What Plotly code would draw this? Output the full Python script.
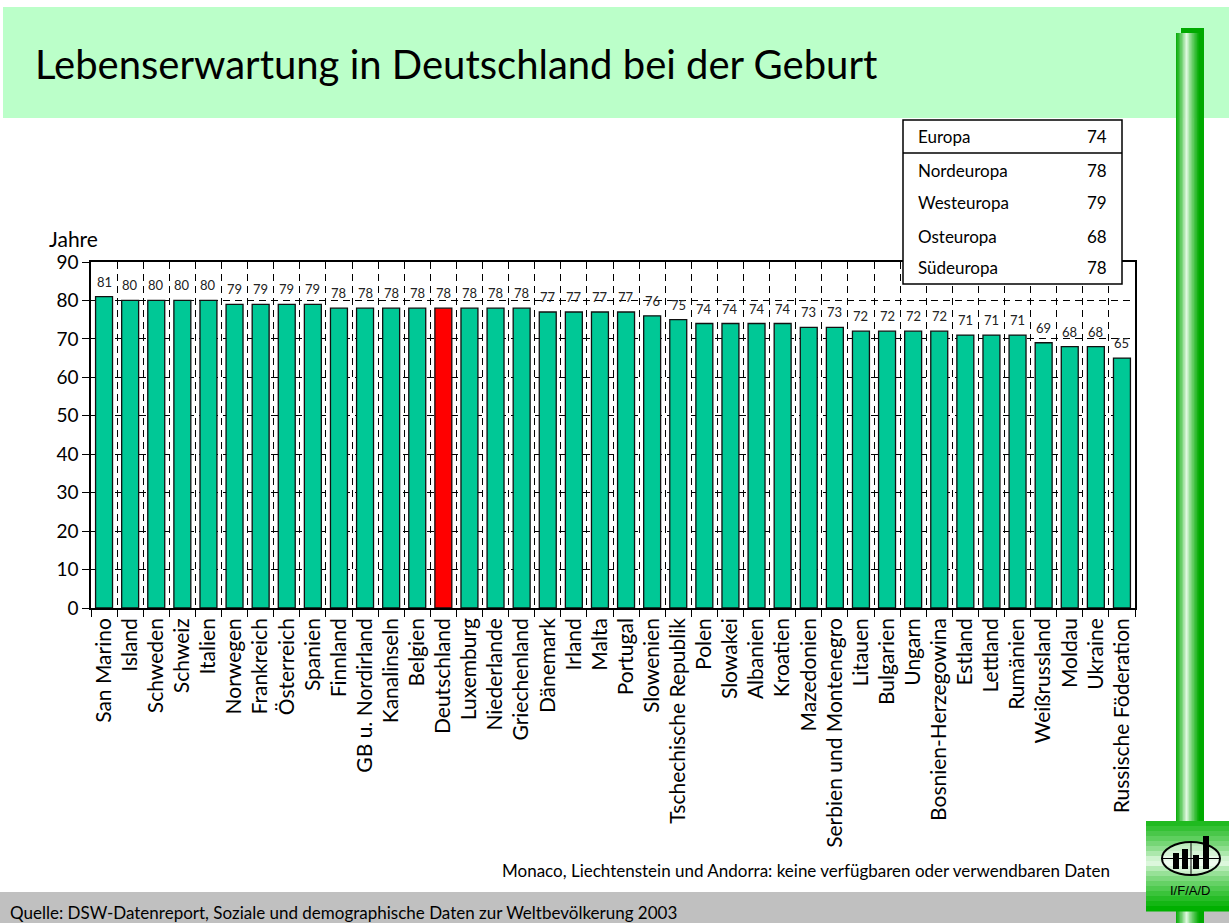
import plotly.graph_objects as go

# Data
countries = [
    "San Marino", "Island", "Schweden", "Schweiz", "Italien", "Norwegen",
    "Frankreich", "Österreich", "Spanien", "Finnland", "GB u. Nordirland",
    "Kanalinseln", "Belgien", "Deutschland", "Luxemburg", "Niederlande",
    "Griechenland", "Dänemark", "Irland", "Malta", "Portugal", "Slowenien",
    "Tschechische Republik", "Polen", "Slowakei", "Albanien", "Kroatien",
    "Mazedonien", "Serbien und Montenegro", "Litauen", "Bulgarien", "Ungarn",
    "Bosnien-Herzegowina", "Estland", "Lettland", "Rumänien", "Weißrussland",
    "Moldau", "Ukraine", "Russische Föderation",
]
life_exp = [81, 80, 80, 80, 80, 79, 79, 79, 79, 78, 78, 78, 78, 78, 78, 78,
            78, 77, 77, 77, 77, 76, 75, 74, 74, 74, 74, 73, 73, 72, 72, 72,
            72, 71, 71, 71, 69, 68, 68, 65]
highlight = "Deutschland"

regions = ["Europa", "Nordeuropa", "Westeuropa", "Osteuropa", "Südeuropa"]
region_values = [74, 78, 79, 68, 78]

y_ticks = [0, 10, 20, 30, 40, 50, 60, 70, 80, 90]

# Page geometry
W, H = 1229, 923
L, R, T, B = 91, 94, 262, 315
PW, PH = W - L - R, H - T - B
FONT = "Lato, sans-serif"
BAR_GREEN = "#00C896"


def fx(px):
    return (px - L) / PW


def fy(py):
    return (H - B - py) / PH


def rect(x0, y0, x1, y1, fill, line=None, layer="below"):
    return dict(type="rect", xref="paper", yref="paper",
                x0=fx(x0), x1=fx(x1), y0=fy(y0), y1=fy(y1),
                fillcolor=fill, layer=layer,
                line=line or dict(width=0))


def mix(c1, c2, t):
    a = [int(c1[i:i + 2], 16) for i in (1, 3, 5)]
    b = [int(c2[i:i + 2], 16) for i in (1, 3, 5)]
    return "#%02x%02x%02x" % tuple(round(a[k] + (b[k] - a[k]) * t) for k in range(3))


bar_colors = ["#FF0000" if c == highlight else BAR_GREEN for c in countries]

fig = go.Figure(go.Bar(
    x=countries, y=life_exp,
    marker=dict(color=bar_colors, line=dict(color="#111111", width=1.3)),
    width=0.65,
    hoverinfo="x+y",
))

shapes = []
# header band
shapes.append(rect(3, 7, 1229, 118, "#BBFFC9"))
# footer band
shapes.append(rect(0, 892, 1229, 923, "#C0C0C0"))

# right vertical gradient bar (highlight left of centre, solid dark right edge)
x0, x1 = 1176, 1199
n = 16
for i in range(n):
    t = (i + 0.5) / n
    if t < 0.45:
        d = (0.45 - t) / 0.45
    else:
        d = (t - 0.45) / 0.55
    col = mix("#F4FFF4", "#00AA00", min(1, d ** 0.75))
    shapes.append(rect(x0 + (x1 - x0) * i / n, 33, x0 + (x1 - x0) * (i + 1) / n + 0.5, 923, col))
shapes.append(rect(1199, 33, 1204, 923, "#00AA00"))
shapes.append(rect(1181, 28, 1204, 33, "#00AA00"))

# logo square with horizontal gradient
lx0, lx1, ly0, ly1 = 1146, 1229, 821, 911
m = 18
for i in range(m):
    t = i / (m - 1)
    d = abs(t - 0.45) / 0.55
    col = mix("#F4FFF4", "#00B000", min(1, d ** 0.7))
    shapes.append(rect(lx0, ly0 + (ly1 - ly0) * i / m, lx1, ly0 + (ly1 - ly0) * (i + 1) / m + 0.5, col))
shapes.append(dict(type="circle", xref="paper", yref="paper",
                   x0=fx(1162), x1=fx(1220), y0=fy(842), y1=fy(875),
                   line=dict(color="#000000", width=2), fillcolor="rgba(255,255,255,0.5)", layer="below"))
shapes.append(dict(type="line", xref="paper", yref="paper",
                   x0=fx(1162), x1=fx(1220), y0=fy(858.5), y1=fy(858.5),
                   line=dict(color="#000000", width=1), layer="below"))
shapes.append(dict(type="line", xref="paper", yref="paper",
                   x0=fx(1191), x1=fx(1191), y0=fy(842), y1=fy(875),
                   line=dict(color="#000000", width=1), layer="below"))
for bx, btop in [(1173, 853), (1182, 849), (1193, 855), (1203, 836)]:
    shapes.append(rect(bx, btop, bx + 6, 869, "#000000"))

# region table
shapes.append(dict(type="rect", xref="paper", yref="paper",
                   x0=fx(903), x1=fx(1122), y0=fy(120), y1=fy(284),
                   fillcolor="#FFFFFF", line=dict(color="#000000", width=1.5), layer="above"))
shapes.append(dict(type="line", xref="paper", yref="paper",
                   x0=fx(903), x1=fx(1122), y0=fy(153), y1=fy(153),
                   line=dict(color="#000000", width=1.5), layer="above"))

annotations = [
    dict(text="Lebenserwartung in Deutschland bei der Geburt", x=fx(33), y=fy(64),
         xanchor="left", yanchor="middle", font=dict(size=40, color="#000000")),
    dict(text="Jahre", x=fx(47), y=fy(238), xanchor="left", yanchor="middle",
         font=dict(size=21, color="#000000")),
    dict(text="Monaco, Liechtenstein und Andorra: keine verfügbaren oder verwendbaren Daten",
         x=fx(1112), y=fy(870), xanchor="right", yanchor="middle",
         font=dict(size=17, color="#000000")),
    dict(text="Quelle: DSW-Datenreport, Soziale und demographische Daten zur Weltbevölkerung 2003",
         x=fx(8), y=fy(912), xanchor="left", yanchor="middle",
         font=dict(size=17, color="#000000")),
    dict(text="I/F/A/D", x=fx(1190), y=fy(890), xanchor="center", yanchor="middle",
         font=dict(family="Liberation Sans, Arial, sans-serif", size=13, color="#000000")),
]
for a in annotations:
    a.update(xref="paper", yref="paper")
row_y = [137, 171, 203, 236, 267]
for name, val, ry in zip(regions, region_values, row_y):
    annotations.append(dict(text=name, x=fx(916), y=fy(ry), xanchor="left", yanchor="middle",
                            xref="paper", yref="paper", font=dict(size=17, color="#000000")))
    annotations.append(dict(text=str(val), x=fx(1109), y=fy(ry), xanchor="right", yanchor="middle",
                            xref="paper", yref="paper", font=dict(size=17, color="#000000")))
# value labels above the bars, placed on the data axes
for c, v in zip(countries, life_exp):
    annotations.append(dict(text=str(v), x=c, y=v, xref="x", yref="y",
                            xanchor="center", yanchor="bottom", yshift=5,
                            font=dict(size=13, color="#222222")))
for a in annotations:
    a["showarrow"] = False

fig.update_layout(
    width=W, height=H,
    margin=dict(l=L, r=R, t=T, b=B, pad=0),
    paper_bgcolor="#FFFFFF",
    plot_bgcolor="#FFFFFF",
    font=dict(family=FONT, color="#000000"),
    showlegend=False,
    shapes=shapes,
    annotations=annotations,
    xaxis=dict(
        type="category",
        tickson="boundaries",
        ticks="outside", ticklen=7, tickcolor="#000000", tickwidth=1,
        tickangle=-90,
        tickfont=dict(size=21, color="#000000"),
        showgrid=True, gridcolor="#000000", gridwidth=1, griddash="7px,5px",
        showline=True, linecolor="#000000", linewidth=1.5, mirror=True,
        fixedrange=True,
    ),
    yaxis=dict(
        range=[0, 90],
        tickvals=y_ticks,
        ticks="outside", ticklen=7, tickcolor="#000000", tickwidth=1,
        tickfont=dict(size=19, color="#000000"),
        showgrid=True, gridcolor="#000000", gridwidth=1, griddash="7px,5px",
        zeroline=False,
        showline=True, linecolor="#000000", linewidth=1.5, mirror=True,
        fixedrange=True,
    ),
)

fig.write_html("out.html", config={"displayModeBar": False},
               post_script="document.body.style.margin='0';")
